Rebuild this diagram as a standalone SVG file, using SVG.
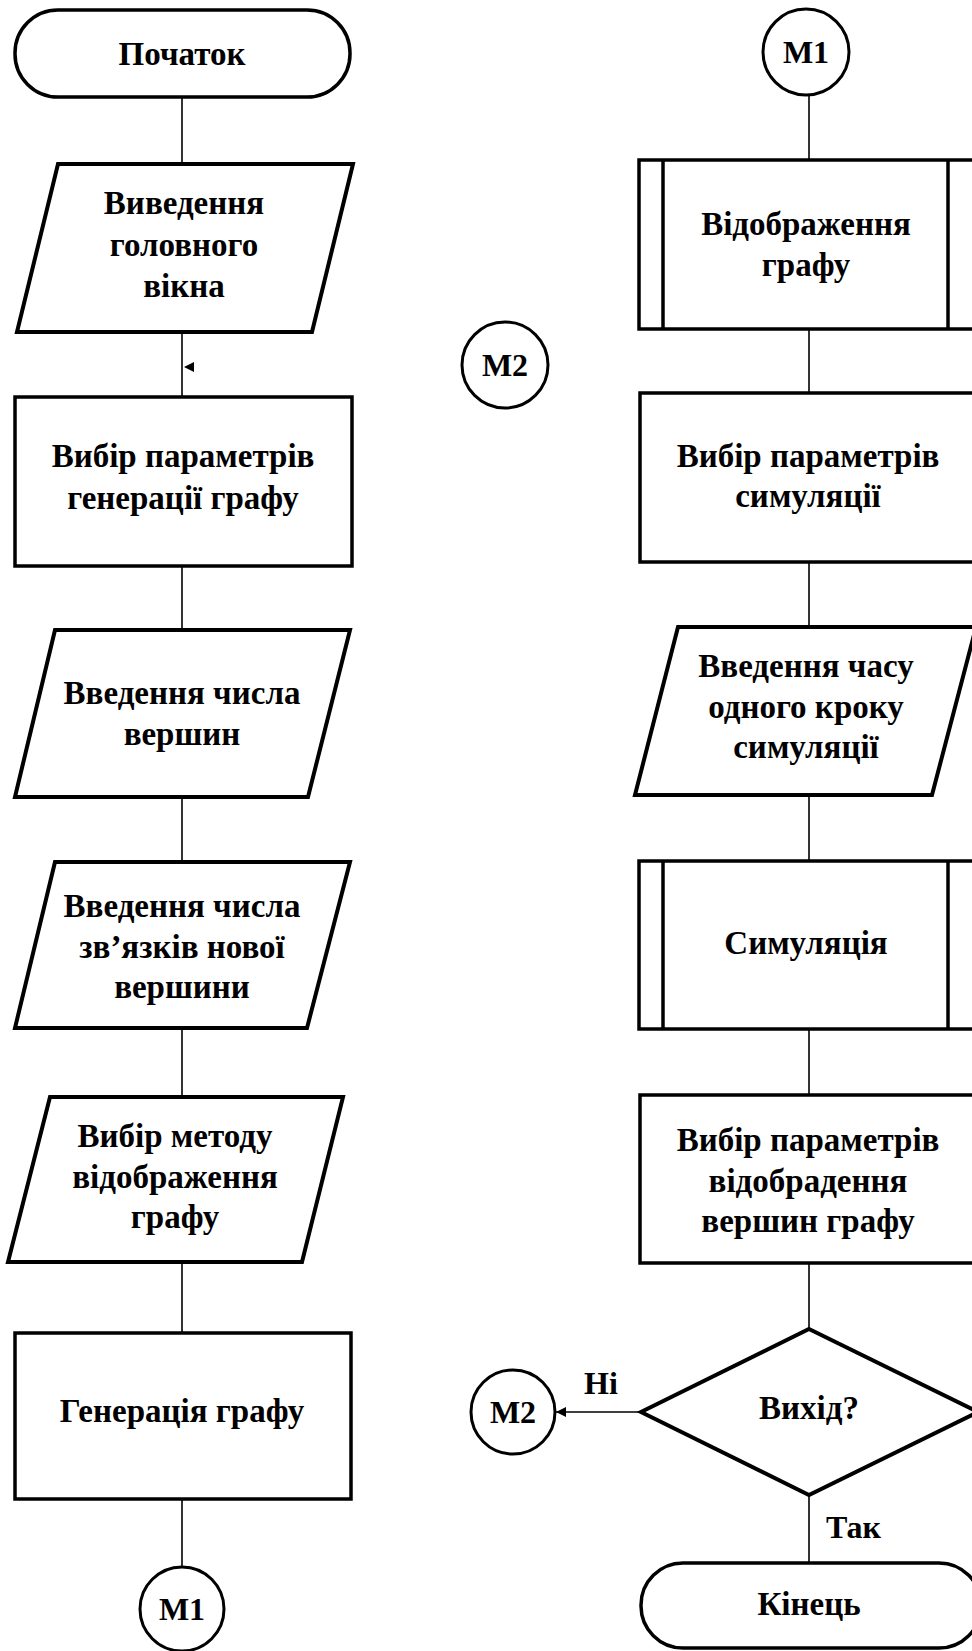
<svg xmlns="http://www.w3.org/2000/svg" width="972" height="1651" viewBox="0 0 972 1651">
<defs>
<style>
.s{fill:#fff;stroke:#000;stroke-width:3.5}
.p{fill:#fff;stroke:#000;stroke-width:4}
.c{fill:#fff;stroke:#000;stroke-width:3}
.ln{fill:none;stroke:#000;stroke-width:1.6}
.t{font-family:"Liberation Serif","Times New Roman",serif;font-weight:bold;font-size:33px;text-anchor:middle;fill:#000}
.m{font-family:"Liberation Serif","Times New Roman",serif;font-weight:bold;font-size:32px;text-anchor:middle;fill:#000}
.lbl{font-family:"Liberation Serif","Times New Roman",serif;font-weight:bold;font-size:32px;fill:#000}
</style>
<marker id="ah" viewBox="0 0 10 10" refX="10" refY="5" markerWidth="10" markerHeight="10" markerUnits="userSpaceOnUse" orient="auto">
<path d="M0,0 L10,5 L0,10 z" fill="#000"/>
</marker>
</defs>
<rect width="972" height="1651" fill="#fff"/>

<g id="connectors">
<line class="ln" x1="182" y1="97" x2="182" y2="163"/>
<line class="ln" x1="182" y1="333" x2="182" y2="397"/>
<polygon points="184,367 194,362 194,372" fill="#000"/>
<line class="ln" x1="182" y1="566" x2="182" y2="629"/>
<line class="ln" x1="182" y1="798" x2="182" y2="861"/>
<line class="ln" x1="182" y1="1029" x2="182" y2="1096"/>
<line class="ln" x1="182" y1="1263" x2="182" y2="1333"/>
<line class="ln" x1="182" y1="1499" x2="182" y2="1567"/>
<line class="ln" x1="809" y1="95" x2="809" y2="160"/>
<line class="ln" x1="809" y1="329" x2="809" y2="393"/>
<line class="ln" x1="809" y1="562" x2="809" y2="626"/>
<line class="ln" x1="809" y1="795" x2="809" y2="860"/>
<line class="ln" x1="809" y1="1029" x2="809" y2="1095"/>
<line class="ln" x1="809" y1="1263" x2="809" y2="1329"/>
<line class="ln" x1="809" y1="1495" x2="809" y2="1563"/>
<line class="ln" x1="641" y1="1412" x2="556" y2="1412" marker-end="url(#ah)"/>
<text class="lbl" x="584" y="1394">Ні</text>
<text class="lbl" x="826" y="1538">Так</text>
</g>

<g id="start">
<rect class="s" x="15" y="10" width="335" height="87" rx="43" ry="43"/>
<text class="t" x="182" y="65">Початок</text>
</g>

<g id="out-main-window">
<polygon class="p" points="58,164 353,164 312,332 17,332"/>
<text class="t" x="184" y="214">Виведення</text>
<text class="t" x="184" y="256">головного</text>
<text class="t" x="184" y="297">вікна</text>
</g>

<g id="gen-params">
<rect class="s" x="15" y="397" width="337" height="169"/>
<text class="t" x="183" y="467">Вибір параметрів</text>
<text class="t" x="183" y="509">генерації графу</text>
</g>

<g id="in-vertex-count">
<polygon class="p" points="55,630 350,630 308,797 15,797"/>
<text class="t" x="182" y="704">Введення числа</text>
<text class="t" x="182" y="745">вершин</text>
</g>

<g id="in-links-count">
<polygon class="p" points="55,862 350,862 307,1028 15,1028"/>
<text class="t" x="182" y="917">Введення числа</text>
<text class="t" x="182" y="958">зв’язків нової</text>
<text class="t" x="182" y="998">вершини</text>
</g>

<g id="display-method">
<polygon class="p" points="50,1097 343,1097 302,1262 8,1262"/>
<text class="t" x="175" y="1147">Вибір методу</text>
<text class="t" x="175" y="1188">відображення</text>
<text class="t" x="175" y="1228">графу</text>
</g>

<g id="generate">
<rect class="s" x="15" y="1333" width="336" height="166"/>
<text class="t" x="182" y="1422">Генерація графу</text>
</g>

<g id="m1-out">
<circle class="c" cx="182" cy="1609" r="42"/>
<text class="m" x="182" y="1620">М1</text>
</g>

<g id="m1-in">
<circle class="c" cx="806" cy="52" r="43"/>
<text class="m" x="806" y="63">М1</text>
</g>

<g id="display-graph">
<rect class="s" x="639" y="160" width="336" height="169"/>
<line class="s" x1="663" y1="160" x2="663" y2="329"/>
<line class="s" x1="948" y1="160" x2="948" y2="329"/>
<text class="t" x="806" y="235">Відображення</text>
<text class="t" x="806" y="276">графу</text>
</g>

<g id="m2-float">
<circle class="c" cx="505" cy="365" r="43"/>
<text class="m" x="505" y="376">М2</text>
</g>

<g id="sim-params">
<rect class="s" x="640" y="393" width="336" height="169"/>
<text class="t" x="808" y="467">Вибір параметрів</text>
<text class="t" x="808" y="507">симуляції</text>
</g>

<g id="in-step-time">
<polygon class="p" points="678,627 976,627 932,795 635,795"/>
<text class="t" x="806" y="677">Введення часу</text>
<text class="t" x="806" y="718">одного кроку</text>
<text class="t" x="806" y="758">симуляції</text>
</g>

<g id="simulation">
<rect class="s" x="639" y="861" width="336" height="168"/>
<line class="s" x1="663" y1="861" x2="663" y2="1029"/>
<line class="s" x1="948" y1="861" x2="948" y2="1029"/>
<text class="t" x="806" y="954">Симуляція</text>
</g>

<g id="vertex-display-params">
<rect class="s" x="640" y="1095" width="336" height="168"/>
<text class="t" x="808" y="1151">Вибір параметрів</text>
<text class="t" x="808" y="1192">відобрадення</text>
<text class="t" x="808" y="1232">вершин графу</text>
</g>

<g id="exit-decision">
<polygon class="p" points="809,1329 978,1412 809,1495 641,1412"/>
<text class="t" x="809" y="1419">Вихід?</text>
</g>

<g id="m2-out">
<circle class="c" cx="513" cy="1412" r="42"/>
<text class="m" x="513" y="1423">М2</text>
</g>

<g id="end">
<rect class="s" x="641" y="1563" width="340" height="85" rx="42" ry="42"/>
<text class="t" x="809" y="1615">Кінець</text>
</g>
</svg>
